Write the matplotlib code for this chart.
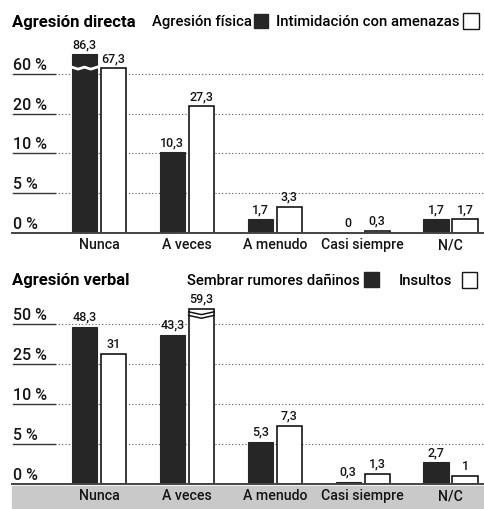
import numpy as np
import matplotlib.pyplot as plt
from matplotlib.patches import Rectangle
from matplotlib.transforms import ScaledTranslation

plt.rcParams['font.family'] = ['Roboto', 'DejaVu Sans']
plt.rcParams['font.weight'] = 'medium'

categories = ['Nunca', 'A veces', 'A menudo', 'Casi siempre', 'N/C']

# top panel: Agresion directa
fisica = [86.3, 10.3, 1.7, 0, 1.7]
amenazas = [67.3, 27.3, 3.3, 0.3, 1.7]
ticks_top = [0, 5, 10, 20, 60]

# bottom panel: Agresion verbal
rumores = [48.3, 43.3, 5.3, 0.3, 2.7]
insultos = [31, 59.3, 7.3, 1.3, 1]
ticks_bot = [0, 5, 10, 25, 50]


def fmt(v):
    return ('%g' % v).replace('.', ',')


def make_scale(ticks, top_val, top_pos):
    # piecewise scale: every tick one step apart
    src = list(ticks) + [top_val]
    dst = list(range(len(ticks))) + [top_pos]
    fwd = lambda y: np.interp(y, src, dst)
    inv = lambda u: np.interp(u, dst, src)
    return fwd, inv


dark = '#262626'
ink = '#151515'
w = 0.29
off = 0.165

fig = plt.figure(figsize=(4.85, 5.1), dpi=100)


def panel(rect, ticks, black, white, top_val, top_pos, ymax_u, brk_black, brk_white):
    ax = fig.add_axes(rect)
    fwd, inv = make_scale(ticks, top_val, top_pos)
    ax.set_yscale('function', functions=(fwd, inv))
    ax.set_ylim(0, inv(ymax_u))
    x = np.arange(len(categories))
    ax.set_xlim(-0.5, 4.39)
    up = ax.transData + ScaledTranslation(0, 3 / 72, fig.dpi_scale_trans)

    # dotted gridlines
    for t in ticks[1:]:
        ax.axhline(t, color='#555555', lw=0.8, ls=(0, (1, 2)), zorder=1)

    ax.bar(x - off, black, w, color=dark, edgecolor=dark, lw=0.8, zorder=3)
    ax.bar(x + off, white, w, color='white', edgecolor=ink, lw=1.2, zorder=3)

    for xi, v in zip(x, black):
        ax.text(xi - off, v, fmt(v), ha='center', va='bottom', fontsize=9,
                color=ink, zorder=5, transform=up)
    for xi, v in zip(x, white):
        ax.text(xi + off, v, fmt(v), ha='center', va='bottom', fontsize=9,
                color=ink, zorder=5, transform=up)

    # break marks on the clipped bars
    if brk_black is not None:
        i, b = brk_black
        xs = [i - off - w / 2, i - off - w / 4, i - off, i - off + w / 4, i - off + w / 2]
        ax.plot(xs, [b, inv(fwd(b) - 0.05), b, inv(fwd(b) - 0.05), b], color='white', lw=2, zorder=4)
    if brk_white is not None:
        i, b = brk_white
        xs = [i + off - w / 2, i + off, i + off + w / 2]
        for d in (0, 0.09):
            yb = inv(fwd(b) - d)
            ax.plot(xs, [yb, inv(fwd(yb) - 0.07), yb], color=ink, lw=1.1, zorder=4)

    # y tick labels with underline rule
    for t in ticks:
        ax.text(-0.5 - 42 / 88, t, '%d %%' % t, ha='left', va='bottom', fontsize=11.5,
                color=ink, clip_on=False,
                transform=ax.transData + ScaledTranslation(0, 1.5 / 72, fig.dpi_scale_trans))
        if t > 0:
            ax.plot([-0.5 - 42 / 88, -0.5], [t, t], color='#333333', lw=1.0, clip_on=False)

    ax.plot([-0.5 - 43 / 88, 4.39], [0, 0], color='#444444', lw=1.4, zorder=4, clip_on=False)
    ax.set_xticks(x)
    ax.set_xticklabels(categories, fontsize=10.2, color=ink)
    ax.tick_params(axis='x', length=0, pad=3)
    ax.set_yticks([])
    for s in ax.spines.values():
        s.set_visible(False)
    return ax


ax1 = panel([55 / 485, 1 - 234 / 510, 430 / 485, 189 / 510], ticks_top, fisica, amenazas,
            100, 4.75, 4.76, (0, 69), None)
ax2 = panel([55 / 485, 25 / 510, 430 / 485, 185 / 510], ticks_bot, rumores, insultos,
            100, 6.0, 4.62, None, (1, 57.5))

# gray band behind the bottom category labels
fig.add_artist(Rectangle((12 / 485, 0), 1, 23 / 510, transform=fig.transFigure,
                         color='#c9c9c9', zorder=0))

# titles and legends
fig.text(12 / 485, 1 - 22 / 510, 'Agresión directa', fontsize=12, fontweight='bold', va='center')
fig.text(252 / 485, 1 - 22 / 510, 'Agresión física', fontsize=10.7, va='center', ha='right')
fig.add_artist(Rectangle((254 / 485, 1 - 29 / 510), 14 / 485, 14 / 510, transform=fig.transFigure,
                         facecolor=dark, edgecolor=dark))
fig.text(460 / 485, 1 - 22 / 510, 'Intimidación con amenazas', fontsize=10.7, va='center', ha='right')
fig.add_artist(Rectangle((463 / 485, 1 - 30 / 510), 16 / 485, 16 / 510, transform=fig.transFigure,
                         facecolor='white', edgecolor=ink, lw=1))

fig.text(12 / 485, 1 - 280 / 510, 'Agresión verbal', fontsize=12, fontweight='bold', va='center')
fig.text(360 / 485, 1 - 281 / 510, 'Sembrar rumores dañinos', fontsize=10.7, va='center', ha='right')
fig.add_artist(Rectangle((364 / 485, 1 - 288 / 510), 15 / 485, 15 / 510, transform=fig.transFigure,
                         facecolor=dark, edgecolor=dark))
fig.text(452 / 485, 1 - 281 / 510, 'Insultos', fontsize=10.7, va='center', ha='right')
fig.add_artist(Rectangle((462 / 485, 1 - 289 / 510), 15 / 485, 16 / 510, transform=fig.transFigure,
                         facecolor='white', edgecolor=ink, lw=1))

fig.savefig('out.png', dpi=100)
